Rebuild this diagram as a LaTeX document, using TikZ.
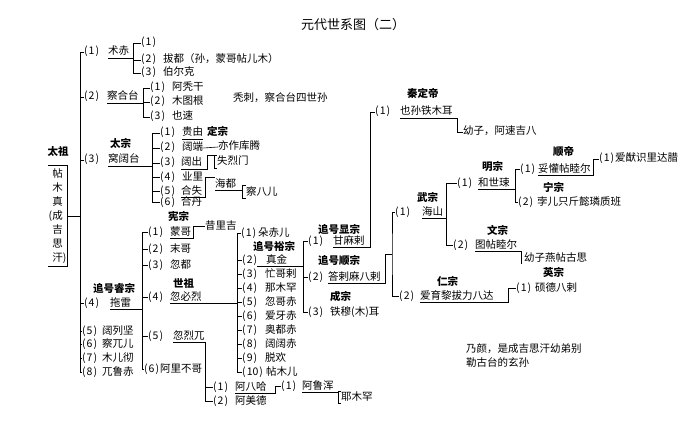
\documentclass[tikz,border=0pt]{standalone}
\usepackage{fontspec}
\setmainfont{Noto Sans CJK SC}
\usetikzlibrary{positioning}
\newcommand{\hn}[1]{(\kern1pt#1\kern1pt)}

\tikzset{
  ren/.style={anchor=west, inner xsep=0pt, inner ysep=1pt, text height=8pt, text depth=2pt, font=\fontsize{10.5}{12}\selectfont},
  xu/.style={ren},
  hao/.style={ren, font=\fontsize{10.5}{12}\selectfont\bfseries},
  xian/.style={line width=0.6pt},
}

\begin{document}
\begin{tikzpicture}[x=1pt,y=-1pt]
		\useasboundingbox (0,0) rectangle (690,422);

		\node[font=\fontsize{13}{15}\selectfont] (biaoti) at (353,25) {元代世系图（二）};

		% 太祖
		\node[hao, anchor=center] (h-taizu) at (58,153) {太祖};
		\node[align=center, inner sep=0pt, minimum width=19pt, minimum height=100pt, font=\fontsize{10.5}{14}\selectfont] (taizu) at (57.5,216) {帖\\木\\真\\\llap{(}成\\吉\\思\\汗\rlap{)}};
		\coordinate (gan) at (80,0);

		\node[xu] (x-zhuchi) at (84,52) {\hn{1}};
		\node[ren] (zhuchi) at (108,52) {术赤};
		\node[xu] (x-chagatai) at (84,97) {\hn{2}};
		\node[ren] (chagatai) at (107,97) {察合台};
		\node[xu] (x-ogedei) at (84,160) {\hn{3}};
		\node[ren] (ogedei) at (108,160) {窝阔台};
		\node[hao] (h-ogedei) at (110,145) {太宗};
		\node[xu] (x-tolui) at (84,303) {\hn{4}};
		\node[ren] (tolui) at (110,303) {拖雷};
		\node[hao] (h-tolui) at (93,289) {追号睿宗};
		\node[xu] (x-kulgen) at (82,331) {\hn{5}};
		\node[ren] (kulgen) at (102,331) {阔列坚};
		\node[xu] (x-chaur) at (82,344) {\hn{6}};
		\node[ren] (chaur) at (102,344) {察兀儿};
		\node[xu] (x-murche) at (82,358) {\hn{7}};
		\node[ren] (murche) at (102,358) {木儿彻};
		\node[xu] (x-uruchi) at (82,372) {\hn{8}};
		\node[ren] (uruchi) at (102,372) {兀鲁赤};

		\draw[xian] (taizu.north west) -- (taizu.north east) -- (taizu.south east) -- (taizu.south west);
		\draw[xian] (taizu.east) -- (taizu.east -| gan);
		\draw[xian] (x-zhuchi.west) -| (x-uruchi.west -| gan) -- (x-uruchi.west);
		\draw[xian] (x-chagatai.west -| gan) -- (x-chagatai.west) (x-ogedei.west -| gan) -- (x-ogedei.west)
			(x-tolui.west -| gan) -- (x-tolui.west) (x-kulgen.west -| gan) -- (x-kulgen.west)
			(x-chaur.west -| gan) -- (x-chaur.west) (x-murche.west -| gan) -- (x-murche.west);

		% 术赤
		\coordinate (b-zhuchi) at (133,0);
		\node[xu] (x-zhuchi1) at (141,43) {\hn{1}};
		\node[xu] (x-batu) at (141,60) {\hn{2}};
		\node[ren] (batu) at (163,60) {拔都（孙，蒙哥帖儿木）};
		\node[xu] (x-berke) at (141,73) {\hn{3}};
		\node[ren] (berke) at (163,73) {伯尔克};
		\draw[xian] (zhuchi.south west) -- (zhuchi.south -| b-zhuchi);
		\draw[xian] (x-zhuchi1.west) -| (x-berke.west -| b-zhuchi) -- (x-berke.west);
		\draw[xian] (x-batu.west -| b-zhuchi) -- (x-batu.west);

		% 察合台
		\coordinate (b-chagatai) at (143,0);
		\node[xu] (x-atagan) at (150,88) {\hn{1}};
		\node[ren] (atagan) at (172,88) {阿秃干};
		\node[xu] (x-mutugen) at (150,102) {\hn{2}};
		\node[ren] (mutugen) at (172,102) {木图根};
		\node[xu] (x-yesu) at (150,117) {\hn{3}};
		\node[ren] (yesu) at (172,117) {也速};
		\node[ren] (tula) at (233,99) {秃刺，察合台四世孙};
		\draw[xian] (chagatai.south west) -- (chagatai.south -| b-chagatai);
		\draw[xian] (x-atagan.west) -| (x-yesu.west -| b-chagatai) -- (x-yesu.west);
		\draw[xian] (x-mutugen.west -| b-chagatai) -- (x-mutugen.west);

		% 窝阔台
		\coordinate (b-ogedei) at (152,0);
		\node[xu] (x-guyuk) at (160,133) {\hn{1}};
		\node[ren] (guyuk) at (182,133) {贵由};
		\node[hao] (h-guyuk) at (207,133) {定宗};
		\node[xu] (x-koten) at (160,148) {\hn{2}};
		\node[ren] (koten) at (182,148) {阔端};
		\node[ren] (koten2) at (218,147) {亦作库腾};
		\node[xu] (x-kochu) at (160,163) {\hn{3}};
		\node[ren] (kochu) at (181,163) {阔出};
		\node[ren] (shiremun) at (217,162) {失烈门};
		\node[xu] (x-yeli) at (160,177) {\hn{4}};
		\node[ren] (yeli) at (182,177) {业里};
		\node[xu] (x-kashi) at (160,191) {\hn{5}};
		\node[ren] (kashi) at (181,191) {合失};
		\node[ren] (kaidu) at (215,184) {海都};
		\node[ren] (chapar) at (246,192) {察八儿};
		\node[xu] (x-kadan) at (160,202) {\hn{6}};
		\node[ren] (kadan) at (181,202) {合丹};
		\draw[xian] (ogedei.south west) -- (ogedei.south -| b-ogedei);
		\draw[xian] (x-guyuk.west) -| (x-kadan.west -| b-ogedei) -- (x-kadan.west);
		\draw[xian] (x-koten.west -| b-ogedei) -- (x-koten.west) (x-kochu.west -| b-ogedei) -- (x-kochu.west)
			(x-yeli.west -| b-ogedei) -- (x-yeli.west) (x-kashi.west -| b-ogedei) -- (x-kashi.west);
		\draw[xian] (guyuk.south west) -- (guyuk.south east);
		\draw[xian] (koten.east) -- (koten2.west);
		\coordinate (b-kochu) at (207,0);
		\coordinate (k-shiremun) at (214,0);
		\draw[xian] (kochu.south west) -- (kochu.south -| b-kochu) -- (shiremun.north -| b-kochu) -- (shiremun.north -| k-shiremun);
		\draw[xian] (shiremun.north west) -- (shiremun.north -| k-shiremun) -- (shiremun.south -| k-shiremun) -- (shiremun.south west);
		\coordinate (b-kashi) at (205,0);
		\coordinate (k-chapar) at (242,0);
		\draw[xian] (kashi.south west) -- (kashi.south -| b-kashi) -- (kaidu.north -| b-kashi) -- (kaidu.north west);
		\draw[xian] (kaidu.south west) -- (kaidu.south -| k-chapar);
		\draw[xian] (chapar.north west) -- (chapar.north -| k-chapar) -- (chapar.south -| k-chapar) -- (chapar.south west);

		% 拖雷
		\coordinate (b-tolui) at (142,0);
		\node[xu] (x-mongke) at (148,232) {\hn{1}};
		\node[ren] (mongke) at (170,232) {蒙哥};
		\node[hao] (h-mongke) at (168,217) {宪宗};
		\node[ren] (shiregi) at (205,226) {昔里吉};
		\node[xu] (x-moge) at (148,249) {\hn{2}};
		\node[ren] (moge) at (170,249) {末哥};
		\node[xu] (x-hudu) at (148,265) {\hn{3}};
		\node[ren] (hudu) at (170,265) {忽都};
		\node[xu] (x-kublai) at (148,297) {\hn{4}};
		\node[ren] (kublai) at (170,297) {忽必烈};
		\node[hao] (h-kublai) at (173,284) {世祖};
		\node[xu] (x-hulegu) at (148,336) {\hn{5}};
		\node[ren] (hulegu) at (173,336) {忽烈兀};
		\node[xu] (x-arikboke) at (144,369) {\hn{6}};
		\node[ren] (arikboke) at (160,369) {阿里不哥};
		\draw[xian] (tolui.south west) -- (tolui.south -| b-tolui);
		\draw[xian] (x-mongke.west) -| (x-arikboke.west -| b-tolui) -- (x-arikboke.west);
		\draw[xian] (x-moge.west -| b-tolui) -- (x-moge.west) (x-hudu.west -| b-tolui) -- (x-hudu.west)
			(x-kublai.west -| b-tolui) -- (x-kublai.west) (x-hulegu.west -| b-tolui) -- (x-hulegu.west);
		\coordinate (b-mongke) at (193,0);
		\draw[xian] (mongke.south west) -- (mongke.south -| b-mongke) |- (shiregi.west);

		% 忽烈兀
		\coordinate (b-hulegu) at (205,0);
		\node[xu] (x-abaqa) at (213,387) {\hn{1}};
		\node[ren] (abaqa) at (235,387) {阿八哈};
		\node[xu] (x-ahmad) at (213,401) {\hn{2}};
		\node[ren] (ahmad) at (235,401) {阿美德};
		\draw[xian] (hulegu.south west) -- (hulegu.south -| b-hulegu) |- (x-ahmad.west);
		\draw[xian] (x-abaqa.west -| b-hulegu) -- (x-abaqa.west);
		\coordinate (b-abaqa) at (275,0);
		\node[xu] (x-arghun) at (281,386) {\hn{1}};
		\node[ren] (arghun) at (302,386) {阿鲁浑};
		\draw[xian] (abaqa.south west) -- (abaqa.south -| b-abaqa) |- (x-arghun.west);
		\coordinate (b-arghun) at (338,0);
		\node[ren] (yemuhan) at (341,397) {耶木罕};
		\draw[xian] (arghun.south west) -- (arghun.south -| b-arghun);
		\draw[xian] (yemuhan.north west) -- (yemuhan.north -| b-arghun) -- (yemuhan.south -| b-arghun) -- (yemuhan.south west);

		% 忽必烈
		\coordinate (b-kublai) at (237,0);
		\node[xu] (x-dorji) at (241,233) {\hn{1}};
		\node[ren] (dorji) at (258,233) {朵赤儿};
		\node[hao] (h-jingim) at (253,247) {追号裕宗};
		\node[xu] (x-jingim) at (242,260) {\hn{2}};
		\node[ren] (jingim) at (266,260) {真金};
		\node[xu] (x-manggala) at (242,274) {\hn{3}};
		\node[ren] (manggala) at (265,274) {忙哥剌};
		\node[xu] (x-nomukhan) at (242,288) {\hn{4}};
		\node[ren] (nomukhan) at (265,288) {那木罕};
		\node[xu] (x-hugechi) at (242,302) {\hn{5}};
		\node[ren] (hugechi) at (265,302) {忽哥赤};
		\node[xu] (x-ayachi) at (242,316) {\hn{6}};
		\node[ren] (ayachi) at (265,316) {爱牙赤};
		\node[xu] (x-auruqchi) at (242,330) {\hn{7}};
		\node[ren] (auruqchi) at (265,330) {奥都赤};
		\node[xu] (x-kokochu) at (242,344) {\hn{8}};
		\node[ren] (kokochu) at (265,344) {阔阔赤};
		\node[xu] (x-toghon) at (242,358) {\hn{9}};
		\node[ren] (toghon) at (265,358) {脱欢};
		\node[xu] (x-temur10) at (242,372) {\hn{10}};
		\node[ren] (temur10) at (266,372) {帖木儿};
		\draw[xian] (kublai.south west) -- (kublai.south -| b-kublai);
		\draw[xian] (x-dorji.west) -| (x-temur10.west -| b-kublai) -- (x-temur10.west);
		\draw[xian] (x-jingim.west -| b-kublai) -- (x-jingim.west) (x-manggala.west -| b-kublai) -- (x-manggala.west)
			(x-nomukhan.west -| b-kublai) -- (x-nomukhan.west) (x-hugechi.west -| b-kublai) -- (x-hugechi.west)
			(x-ayachi.west -| b-kublai) -- (x-ayachi.west) (x-auruqchi.west -| b-kublai) -- (x-auruqchi.west)
			(x-kokochu.west -| b-kublai) -- (x-kokochu.west) (x-toghon.west -| b-kublai) -- (x-toghon.west);

		% 真金
		\coordinate (b-jingim) at (303,0);
		\node[xu] (x-kamala) at (308,241) {\hn{1}};
		\node[ren] (kamala) at (333,241) {甘麻剌};
		\node[hao] (h-kamala) at (318,230) {追号显宗};
		\node[xu] (x-darmabala) at (308,277) {\hn{2}};
		\node[ren] (darmabala) at (328,277) {答剌麻八剌};
		\node[hao] (h-darmabala) at (318,261) {追号顺宗};
		\node[xu] (x-temur) at (308,312) {\hn{3}};
		\node[ren] (temur) at (330,312) {铁穆(木)耳};
		\node[hao] (h-temur) at (330,297) {成宗};
		\draw[xian] (x-jingim.south east) -- (jingim.south -| b-jingim);
		\draw[xian] (x-kamala.west) -| (x-temur.west -| b-jingim) -- (x-temur.west);
		\draw[xian] (x-darmabala.west -| b-jingim) -- (x-darmabala.west);

		% 甘麻剌
		\coordinate (b-kamala) at (370,0);
		\node[xu] (x-yesun) at (375,112) {\hn{1}};
		\node[ren] (yesun) at (400,112) {也孙铁木耳};
		\node[hao] (h-yesun) at (407,95) {秦定帝};
		\draw[xian] (kamala.south west) -- (kamala.south -| b-kamala) |- (x-yesun.west);
		\coordinate (b-yesun) at (457,0);
		\node[ren] (arigaba) at (463,132) {幼子，阿速吉八};
		\draw[xian] (yesun.south west) -- (yesun.south -| b-yesun) |- (arigaba.west);

		% 答剌麻八剌
		\coordinate (b-darmabala) at (385,0);
		\coordinate (m-darmabala) at (392,254);
		\node[xu] (x-khaishan) at (395,212) {\hn{1}};
		\node[ren] (khaishan) at (422,212) {海山};
		\node[hao] (h-khaishan) at (417,198) {武宗};
		\node[xu] (x-ayurbarwada) at (399,296) {\hn{2}};
		\node[ren] (ayurbarwada) at (420,296) {爱育黎拔力八达};
		\node[hao] (h-ayurbarwada) at (437,282) {仁宗};
		\draw[xian] (darmabala.south west) -- (darmabala.south -| b-darmabala) |- (m-darmabala);
		\draw[xian] (x-khaishan.west) -| (m-darmabala) |- (x-ayurbarwada.west);

		% 海山
		\coordinate (b-khaishan) at (446,0);
		\node[xu] (x-kusala) at (457,183) {\hn{1}};
		\node[ren] (kusala) at (478,183) {和世㻋};
		\node[hao] (h-kusala) at (482,168) {明宗};
		\node[xu] (x-tugtemur) at (453,245) {\hn{2}};
		\node[ren] (tugtemur) at (475,245) {图帖睦尔};
		\node[hao] (h-tugtemur) at (487,231) {文宗};
		\draw[xian] (khaishan.south west) -- (khaishan.south -| b-khaishan);
		\draw[xian] (x-kusala.west) -| (x-tugtemur.west -| b-khaishan) -- (x-tugtemur.west);

		% 和世㻋
		\coordinate (b-kusala) at (515,0);
		\node[xu] (x-toghontemur) at (520,169) {\hn{1}};
		\node[ren] (toghontemur) at (538,169) {妥懽帖睦尔};
		\node[hao] (h-toghontemur) at (553,153) {顺帝};
		\node[xu] (x-rinchinbal) at (518,202) {\hn{2}};
		\node[ren] (rinchinbal) at (537,202) {孛儿只斤懿璘质班};
		\node[hao] (h-rinchinbal) at (543,189) {宁宗};
		\draw[xian] (kusala.south west) -- (kusala.south -| b-kusala);
		\draw[xian] (x-toghontemur.west) -| (x-rinchinbal.west -| b-kusala) -- (x-rinchinbal.west);
		\coordinate (b-toghontemur) at (593,0);
		\node[xu] (x-ayushiridara) at (599,159) {\hn{1}};
		\node[ren] (ayushiridara) at (615,159) {爱猷识里达腊};
		\draw[xian] (toghontemur.south west) -- (toghontemur.south -| b-toghontemur) |- (x-ayushiridara.west);

		% 图帖睦尔
		\coordinate (b-tugtemur) at (521,0);
		\node[ren] (togusi) at (524,258) {幼子燕帖古思};
		\draw[xian] (tugtemur.south west) -- (tugtemur.south -| b-tugtemur) -- (togusi.south -| b-tugtemur);

		% 爱育黎拔力八达
		\coordinate (b-ayurbarwada) at (508,0);
		\node[xu] (x-shidebala) at (516,288) {\hn{1}};
		\node[ren] (shidebala) at (535,288) {硕德八剌};
		\node[hao] (h-shidebala) at (543,273) {英宗};
		\draw[xian] (ayurbarwada.south west) -- (ayurbarwada.south -| b-ayurbarwada) |- (x-shidebala.west);

		\node[anchor=north west, inner sep=0pt, align=left, font=\fontsize{10.5}{14}\selectfont] (naiyan) at (466,343) {乃颜，是成吉思汗幼弟别\\勒古台的玄孙};
	\end{tikzpicture}
\end{document}
